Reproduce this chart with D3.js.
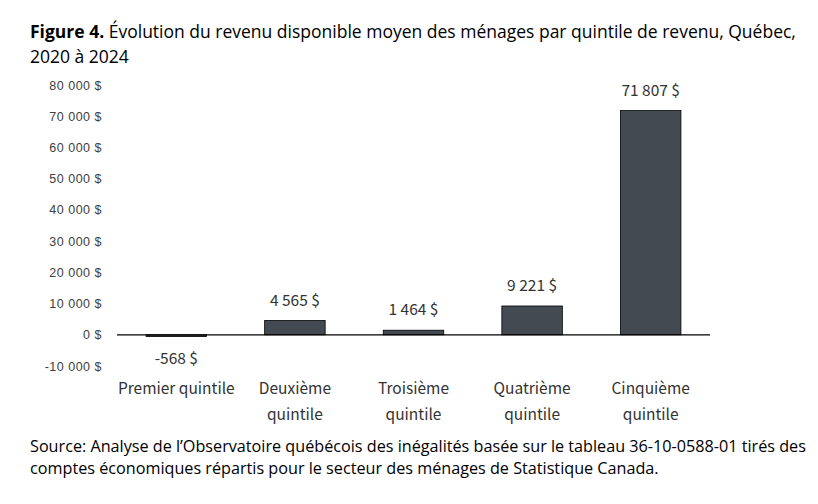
<!DOCTYPE html>
<html>
<head>
<meta charset="utf-8">
<script src="https://cdn.jsdelivr.net/npm/d3@7"></script>
<style>
  body { margin: 0; background: #fff; }
</style>
</head>
<body>
<script>
const categories = [["Premier quintile"], ["Deuxième", "quintile"], ["Troisième", "quintile"], ["Quatrième", "quintile"], ["Cinquième", "quintile"]]
const values = [-568, 4565, 1464, 9221, 71807]
const tickValues = [-10000, 0, 10000, 20000, 30000, 40000, 50000, 60000, 70000, 80000]

const WIDTH = 818
const HEIGHT = 504
const X0 = 117, X1 = 710 // zone des batons
const Y_TOP = 85, Y_BOTTOM = 366

// format québécois : espace pour les milliers, tiret simple
const fmt = v => d3.format(",")(v).replace(/,/g, " ").replace("−", "-") + " $"

const svg = d3.select('body').append('svg').attr('width', WIDTH).attr('height', HEIGHT)

// titre
const title = svg.append('text')
    .attr('x', 30).attr('y', 38)
    .attr('font-family', 'Open Sans, sans-serif')
    .attr('font-size', 17.5)
    .attr('fill', '#000')
title.append('tspan').attr('font-weight', 'bold').text('Figure 4.')
title.append('tspan').text(' Évolution du revenu disponible moyen des ménages par quintile de revenu, Québec,')
svg.append('text')
    .attr('x', 30).attr('y', 63)
    .attr('font-family', 'Open Sans, sans-serif')
    .attr('font-size', 17.5)
    .text('2020 à 2024')

const xScale = d3.scaleBand()
    .domain(d3.range(categories.length))
    .range([X0, X1])
    .paddingInner(0.49)
    .paddingOuter(0.245)

const yScale = d3.scaleLinear()
    .domain([-10000, 80000])
    .range([Y_BOTTOM, Y_TOP])

// axe Y sans ligne
const axisY = d3.axisLeft(yScale)
    .tickValues(tickValues)
    .tickSize(0)
    .tickPadding(0)
    .tickFormat(fmt)
svg.append('g')
    .attr('transform', `translate(102, 0)`)
    .call(axisY)
    .call(g => g.select('.domain').remove())
    .call(g => g.selectAll('text')
        .attr('font-family', 'Liberation Sans, Arial, sans-serif')
        .attr('font-size', 12.5)
        .attr('letter-spacing', 0.5)
        .attr('fill', '#404040'))

// batons
svg.append('g').selectAll('rect')
    .data(values)
    .enter()
    .append('rect')
    .attr('x', (d, i) => xScale(i))
    .attr('width', xScale.bandwidth())
    .attr('y', d => yScale(Math.max(0, d)))
    .attr('height', d => Math.abs(yScale(d) - yScale(0)))
    .attr('fill', '#434a52')
    .attr('stroke', '#000')
    .attr('stroke-width', 0.8)

// ligne du zero
svg.append('line')
    .attr('x1', X0).attr('x2', X1)
    .attr('y1', yScale(0)).attr('y2', yScale(0))
    .attr('stroke', '#000')
    .attr('stroke-width', 1.2)

// etiquettes de valeurs
svg.append('g').selectAll('text')
    .data(values)
    .enter()
    .append('text')
    .attr('x', (d, i) => xScale(i) + xScale.bandwidth() / 2)
    .attr('y', d => d >= 0 ? yScale(d) - 15 : yScale(d) + 27)
    .attr('text-anchor', 'middle')
    .attr('font-family', 'Noto Sans CJK JP, sans-serif')
    .attr('font-size', 15.5)
    .attr('fill', '#333')
    .text(fmt)

// noms des quintiles
const cats = svg.append('g').selectAll('text')
    .data(categories)
    .enter()
    .append('text')
    .attr('text-anchor', 'middle')
    .attr('font-family', 'Noto Sans CJK JP, sans-serif')
    .attr('font-size', 15.5)
    .attr('fill', '#333')
cats.selectAll('tspan')
    .data((d, i) => d.map(l => ({ l, i })))
    .enter()
    .append('tspan')
    .attr('x', d => xScale(d.i) + xScale.bandwidth() / 2)
    .attr('y', (d, j) => 394 + j * 26)
    .text(d => d.l)

// source
svg.append('text')
    .attr('x', 30).attr('y', 452)
    .attr('font-family', 'Open Sans, sans-serif')
    .attr('font-size', 16.2)
    .text('Source: Analyse de l’Observatoire québécois des inégalités basée sur le tableau 36-10-0588-01 tirés des')
svg.append('text')
    .attr('x', 30).attr('y', 474)
    .attr('font-family', 'Open Sans, sans-serif')
    .attr('font-size', 16.2)
    .text('comptes économiques répartis pour le secteur des ménages de Statistique Canada.')
</script>
</body>
</html>
